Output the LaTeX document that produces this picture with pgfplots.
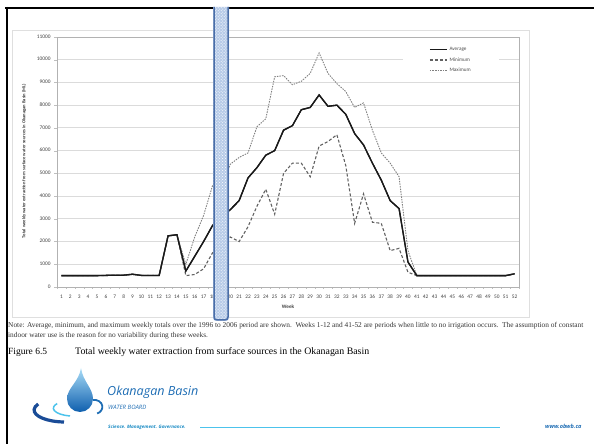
\documentclass[border=0pt]{standalone}
\usepackage{fontspec}
\setmainfont{Liberation Serif}
\newfontfamily\chartfont{Carlito}
\newfontfamily\logofont{Open Sans}
\usepackage{pgfplots}
\pgfplotsset{compat=1.18}
\usepackage{pgfplotstable}
\usetikzlibrary{patterns}
\definecolor{rectblue}{HTML}{B7CBE8}
\definecolor{rectedge}{HTML}{4A6EA8}
\definecolor{logoblue}{HTML}{1E6DB4}
\definecolor{logocyan}{HTML}{4CC3EC}
\definecolor{logodark}{HTML}{1A4C97}
\definecolor{dropdark}{HTML}{0F5FAE}
\definecolor{droplight}{HTML}{A8DCF7}

\pgfplotstableread{
week avg min max
1 500 500 500
2 500 500 500
3 500 500 500
4 500 500 500
5 500 500 500
6 510 510 510
7 520 520 520
8 520 520 520
9 560 560 560
10 510 510 510
11 510 510 510
12 510 510 510
13 2250 2250 2250
14 2300 2300 2300
15 700 500 1000
16 1350 550 2200
17 2000 800 3150
18 2700 1500 4450
19 3100 1800 4300
20 3400 2200 5400
21 3800 2000 5700
22 4800 2650 5900
23 5250 3550 7050
24 5800 4300 7400
25 6000 3200 9250
26 6900 5000 9300
27 7100 5450 8900
28 7800 5450 9050
29 7900 4850 9400
30 8450 6200 10300
31 7950 6400 9400
32 8000 6700 8950
33 7600 5350 8600
34 6750 2800 7900
35 6250 4100 8100
36 5450 2850 6900
37 4700 2800 5900
38 3800 1600 5450
39 3450 1700 4850
40 1100 650 1600
41 500 500 500
42 500 500 500
43 500 500 500
44 500 500 500
45 500 500 500
46 500 500 500
47 500 500 500
48 500 500 500
49 500 500 500
50 500 500 500
51 500 500 500
52 580 580 580
}\datatable

\begin{document}
\begin{tikzpicture}[x=1bp,y=1bp]
% chart frame
\draw[gray!25, line width=0.8bp] (12,127) rectangle (529,414);
\begin{axis}[
  at={(57bp,157bp)}, anchor=south west,
  scale only axis, width=462bp, height=250bp,
  xmin=0.5, xmax=52.5, ymin=0, ymax=11000,
  xtick={1,...,52}, ytick={0,1000,...,11000},
  minor xtick={0.5,1.5,...,52.5},
  major x tick style={draw=none},
  minor x tick style={gray!50},
  y tick style={gray!50},
  tick align=outside, tick pos=left,
  major tick length=3bp, minor tick length=2bp,
  ymajorgrids, grid style={gray!28, line width=0.9bp},
  axis line style={gray!60, line width=0.7bp},
  scaled y ticks=false,
  typeset ticklabels with strut,
  /pgf/number format/1000 sep={},
  /pgf/number format/assume math mode=true,
  tick label style={font=\chartfont\fontsize{5.4}{6}\selectfont, text=black!75},
  xticklabel style={yshift=-1bp},
  legend style={at={(0.749,0.988)}, anchor=north west, fill=white, draw=none,
    font=\chartfont\fontsize{5.2}{6}\selectfont, text=black!70,
    inner xsep=26bp, inner ysep=5bp, row sep=1.5bp},
  legend cell align=left,
  clip=false,
]
\addplot[black!90, line width=1.3bp] table[x=week,y=avg]{\datatable};
\addlegendentry{Average}
\addplot[black!62, line width=1.1bp, dash pattern=on 3bp off 2bp] table[x=week,y=min]{\datatable};
\addlegendentry{Minimum}
\addplot[black!50, line width=0.9bp, dash pattern=on 1.5bp off 1.1bp] table[x=week,y=max]{\datatable};
\addlegendentry{Maximum}
\addplot[black!90, line width=1.3bp, forget plot] table[x=week,y=avg]{\datatable};
\end{axis}
% axis titles
\node[rotate=90, font=\chartfont\bfseries\fontsize{4.6}{5}\selectfont, text=black!75] at (24,283)
  {Total weekly water extraction from surface water sources in Okanagan Basin (ML)};
\node[font=\chartfont\bfseries\fontsize{5.2}{6}\selectfont, text=black!75] at (288,137) {Week};
% page frame lines
\draw[black, line width=2bp] (5,436) -- (594,436);
\draw[black, line width=2bp] (7,437) -- (7,0);
% highlight rectangle
\fill[rectblue] (213,437) [rounded corners=3bp] -- (213,123) -- (229,123) [sharp corners] -- (229,437) -- cycle;
\fill[pattern=crosshatch dots, pattern color=white] (213,437) [rounded corners=3bp] -- (213,123) -- (229,123) [sharp corners] -- (229,437) -- cycle;
\draw[rectedge, line width=1.5bp] (214,437) [rounded corners=3bp] -- (214,124) -- (228,124) [sharp corners] -- (228,437);
% note
\node[anchor=base west, font=\fontsize{7.4}{8}\selectfont, text=black!80, inner sep=0] at (8,116)
  {Note: Average, minimum, and maximum weekly totals over the 1996 to 2006 period are shown.\ \ Weeks 1-12 and 41-52 are periods when little to no irrigation occurs.\ \ The assumption of constant};
\node[anchor=base west, font=\fontsize{7.4}{8}\selectfont, text=black!80, inner sep=0] at (8,106)
  {indoor water use is the reason for no variability during these weeks.};
% caption
\node[anchor=base west, font=\fontsize{9.5}{10}\selectfont, inner sep=0] at (8,89) {Figure 6.5};
\node[anchor=base west, font=\fontsize{9.9}{10}\selectfont, inner sep=0] at (75,89)
  {Total weekly water extraction from surface sources in the Okanagan Basin};
% logo
\draw[logodark, line width=3.2bp] (64,22) arc[start angle=268, end angle=150, x radius=31, y radius=12];
\draw[logocyan, line width=1.5bp] (70,28) arc[start angle=258, end angle=145, x radius=21, y radius=8];
\draw[logoblue, line width=1.8bp] (93,44) arc[start angle=100, end angle=-70, x radius=8, y radius=7];
\shade[top color=droplight, bottom color=dropdark]
  (81,76) .. controls (79,62) and (67,56) .. (67,45) arc[start angle=180, end angle=360, radius=13] .. controls (93,56) and (83,62) .. (81,76) -- cycle;
\node[anchor=base west, font=\logofont\itshape\fontsize{12.6}{14}\selectfont, text=logoblue, inner sep=0] at (107,48) {Okanagan Basin};
\node[anchor=base west, font=\logofont\itshape\fontsize{6}{7}\selectfont, text=logoblue, inner sep=0] at (108,34) {WATER BOARD};
\node[anchor=base west, font=\logofont\bfseries\itshape\fontsize{4.6}{5}\selectfont, text=logoblue!80!cyan, inner sep=0] at (108,15) {Science. Management. Governance.};
\draw[logocyan, line width=0.9bp] (200,17) -- (500,17);
\node[anchor=base west, font=\logofont\bfseries\itshape\fontsize{5.6}{6}\selectfont, text=logoblue, inner sep=0] at (545,15) {www.obwb.ca};
\pgfresetboundingbox
\path[use as bounding box] (0,0) rectangle (594,444);
\end{tikzpicture}
\end{document}
